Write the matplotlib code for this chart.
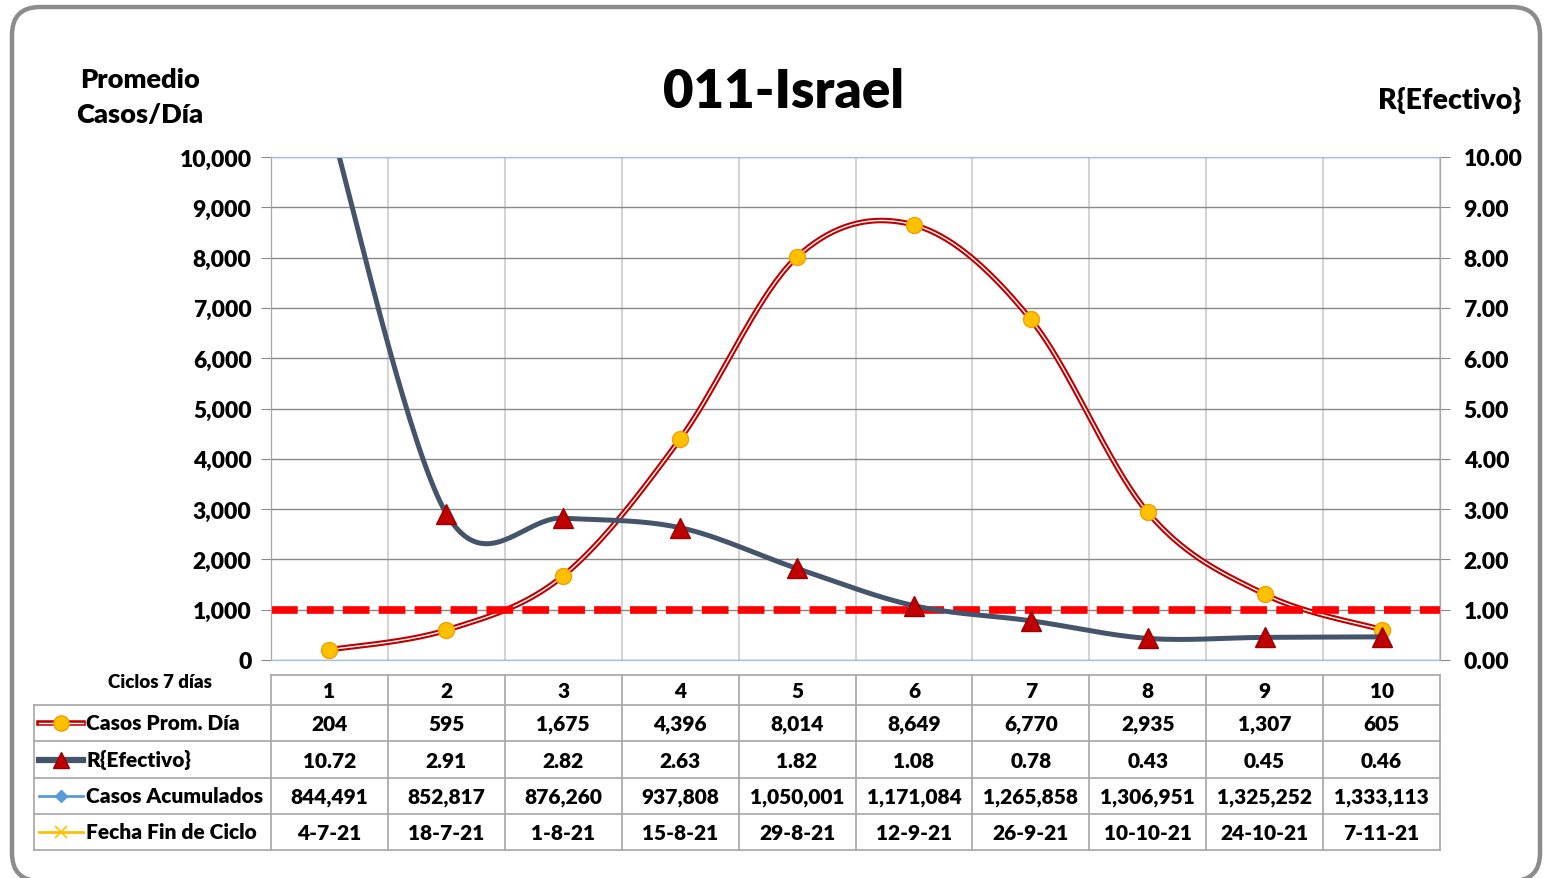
import numpy as np
import matplotlib
matplotlib.use("Agg")
import matplotlib.pyplot as plt
from matplotlib.patches import FancyBboxPatch

plt.rcParams['font.family'] = ['Lato', 'DejaVu Sans']
plt.rcParams['font.weight'] = 'heavy'
WT = 'heavy'

# data
ciclos = [1, 2, 3, 4, 5, 6, 7, 8, 9, 10]
casos_prom = [204, 595, 1675, 4396, 8014, 8649, 6770, 2935, 1307, 605]
r_efectivo = [10.72, 2.91, 2.82, 2.63, 1.82, 1.08, 0.78, 0.43, 0.45, 0.46]
casos_acum = [844491, 852817, 876260, 937808, 1050001, 1171084, 1265858, 1306951, 1325252, 1333113]
fecha_fin = ["4-7-21", "18-7-21", "1-8-21", "15-8-21", "29-8-21", "12-9-21",
             "26-9-21", "10-10-21", "24-10-21", "7-11-21"]
r_umbral = 1.0

W, H = 1544, 879
RED = "#C00000"
SLATE = "#44546A"


def px(x0, y0, x1, y1):
    # pixel box (top-left origin) -> figure fraction rect
    return [x0 / W, 1 - y1 / H, (x1 - x0) / W, (y1 - y0) / H]


def smooth(x, y, n=40):
    """Excel-like smoothed line (Catmull-Rom bezier through the points)."""
    pts = np.column_stack([x, y]).astype(float)
    P = np.vstack([pts[0], pts, pts[-1]])
    out = []
    t = np.linspace(0, 1, n)[:, None]
    for i in range(1, len(P) - 2):
        p0, p1, p2, p3 = P[i - 1], P[i], P[i + 1], P[i + 2]
        c1 = p1 + (p2 - p0) / 6
        c2 = p2 - (p3 - p1) / 6
        out.append((1 - t) ** 3 * p1 + 3 * (1 - t) ** 2 * t * c1
                   + 3 * (1 - t) * t ** 2 * c2 + t ** 3 * p2)
    seg = np.vstack(out)
    return seg[:, 0], seg[:, 1]


fig = plt.figure(figsize=(W / 100, H / 100), dpi=100)

# rounded frame
frame = FancyBboxPatch((0.12, -0.03), 15.28, 8.74, boxstyle="round,pad=0,rounding_size=0.28",
                       transform=fig.dpi_scale_trans, facecolor="none",
                       edgecolor="#8C8C8C", linewidth=3.2, zorder=5)
fig.patches.append(frame)

ax = fig.add_axes(px(271, 158, 1440, 661))
ax2 = ax.twinx()

x = np.array(ciclos)
ax.set_xlim(0.5, 10.5)
ax.set_ylim(0, 10000)
ax2.set_ylim(0, 10)

ax.set_yticks(np.arange(0, 10001, 1000))
ax.set_yticklabels([f"{v:,}" for v in range(0, 10001, 1000)])
ax2.set_yticks(np.arange(0, 10.01, 1))
ax2.set_yticklabels([f"{v:.2f}" for v in np.arange(0, 10.01, 1)])
ax.set_xticks(np.arange(0.5, 10.6, 1))
ax.set_xticklabels([])
ax.tick_params(axis='x', length=0)
ax.tick_params(axis='y', labelsize=16.5, length=7, color="#898989", pad=7)
ax2.tick_params(axis='y', labelsize=16.5, length=7, color="#898989", pad=10)

ax.grid(axis='y', color="#898989", linewidth=1)
ax.grid(axis='x', color="#D4D4D4", linewidth=1.5)
ax.set_axisbelow(True)
for a in (ax, ax2):
    a.spines['top'].set_color("#9DC3E6")
    a.spines['bottom'].set_color("#9DC3E6")
    a.spines['left'].set_color("#A6A6A6")
    a.spines['right'].set_color("#A6A6A6")

# casos promedio (left axis)
sx, sy = smooth(x, casos_prom)
ax.plot(sx, sy, color=RED, linewidth=4.0, solid_capstyle='round', zorder=3)
ax.plot(sx, sy, color="white", linewidth=1.0, zorder=3)
ax.plot(x, casos_prom, linestyle='none', marker='o', markersize=11.5,
        markerfacecolor="#FFC000", markeredgecolor="#F0A000", markeredgewidth=1, zorder=4)

# R efectivo (right axis)
ax2.axhline(r_umbral, color="#FF0000", linewidth=5.5, linestyle=(0, (3.5, 1.2)), zorder=1)
rx, ry = smooth(x, r_efectivo)
ax2.plot(rx, ry, color=SLATE, linewidth=3.6, zorder=2)
ax2.plot(x, r_efectivo, linestyle='none', marker='^', markersize=14,
         markerfacecolor=RED, markeredgecolor="#9A0000", markeredgewidth=1, zorder=3)

# titles
fig.text(784 / W, 1 - 93 / H, "011-Israel", ha='center', va='center', fontsize=38, fontweight=WT)
fig.text(140 / W, 1 - 98 / H, "Promedio\nCasos/Día", ha='center', va='center',
         fontsize=19.5, fontweight=WT, linespacing=1.55)
fig.text(1450 / W, 1 - 101 / H, "R{Efectivo}", ha='center', va='center', fontsize=20.5, fontweight=WT)

# data table
tab = fig.add_axes(px(34, 676, 1440, 851))
xl = 0.5 - (271 - 34) / 116.9
tab.set_xlim(xl, 10.5)
tab.set_ylim(851, 676)
tab.axis('off')
rows_y = [676, 706, 742, 779, 815, 851]
grid_c = "#A6A6A6"
# horizontal lines
tab.plot([0.5, 10.5], [rows_y[0]] * 2, color=grid_c, lw=1.2, clip_on=False)
for yb in rows_y[1:]:
    tab.plot([xl, 10.5], [yb] * 2, color=grid_c, lw=1.2, clip_on=False)
# vertical lines
tab.plot([xl, xl], [rows_y[1], rows_y[-1]], color=grid_c, lw=1.2, clip_on=False)
for xb in np.arange(0.5, 10.6, 1):
    tab.plot([xb, xb], [rows_y[0], rows_y[-1]], color=grid_c, lw=1.2, clip_on=False)

row_vals = [
    [str(c) for c in ciclos],
    [f"{v:,}" for v in casos_prom],
    [f"{v:.2f}" for v in r_efectivo],
    [f"{v:,}" for v in casos_acum],
    fecha_fin,
]
for r, vals in enumerate(row_vals):
    yc = (rows_y[r] + rows_y[r + 1]) / 2
    for c, s in zip(ciclos, vals):
        tab.text(c, yc + 1, s, ha='center', va='center', fontsize=15, fontweight=WT)

fig.text(160 / W, 1 - 683 / H, "Ciclos 7 días", ha='center', va='center', fontsize=13.5, fontweight=WT)

# legend keys in the table
g0 = 0.5 - (271 - 39) / 116.9
g1 = 0.5 - (271 - 83) / 116.9
gm = (g0 + g1) / 2
tx = 0.5 - (271 - 86) / 116.9
labels = ["Casos Prom. Día", "R{Efectivo}", "Casos Acumulados", "Fecha Fin de Ciclo"]
for r, lab in enumerate(labels, start=1):
    yc = (rows_y[r] + rows_y[r + 1]) / 2
    if r == 1:
        tab.plot([g0, g1], [yc, yc], color=RED, lw=4.0, clip_on=False)
        tab.plot([g0, g1], [yc, yc], color="white", lw=1.0, clip_on=False)
        tab.plot([gm], [yc], marker='o', ms=11, mfc="#FFC000", mec="#F0A000", clip_on=False)
    elif r == 2:
        tab.plot([g0, g1], [yc, yc], color=SLATE, lw=4.5, clip_on=False)
        tab.plot([gm], [yc], marker='^', ms=11, mfc=RED, mec="#9A0000", clip_on=False)
    elif r == 3:
        tab.plot([g0, g1], [yc, yc], color="#5B9BD5", lw=2.0, clip_on=False)
        tab.plot([gm], [yc], marker='D', ms=6, mfc="#5B9BD5", mec="#5B9BD5", clip_on=False)
    else:
        tab.plot([g0, g1], [yc, yc], color="#FFC000", lw=2.0, clip_on=False)
        tab.plot([gm], [yc], marker='x', ms=8, mec="#FFC000", mew=1.2, clip_on=False)
    tab.text(tx, yc, lab, ha='left', va='center', fontsize=15, fontweight=WT)

fig.savefig("out.png", dpi=100)
